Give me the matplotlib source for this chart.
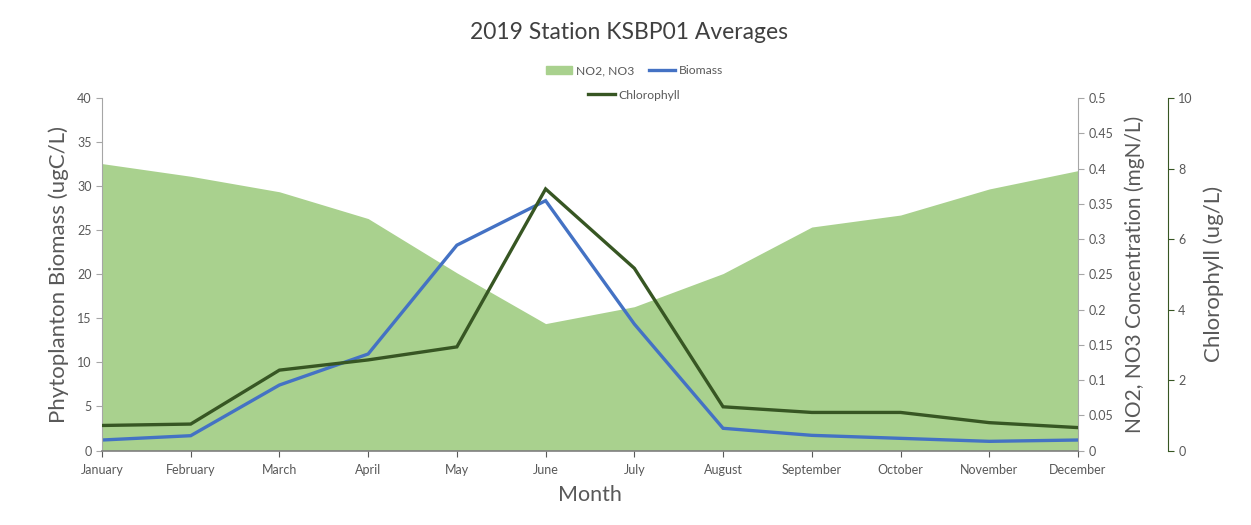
import matplotlib
matplotlib.use("Agg")
import matplotlib.pyplot as plt
from matplotlib.patches import Patch
from matplotlib.lines import Line2D

plt.rcParams.update({"font.family": ["Lato", "DejaVu Sans"]})

months = ["January", "February", "March", "April", "May", "June", "July",
          "August", "September", "October", "November", "December"]
no2_no3 = [0.407, 0.389, 0.367, 0.329, 0.252, 0.180, 0.204, 0.251, 0.317, 0.334, 0.371, 0.397]
biomass = [1.19, 1.68, 7.43, 10.95, 23.3, 28.35, 14.35, 2.52, 1.72, 1.38, 1.04, 1.19]
chlorophyll = [0.71, 0.75, 2.28, 2.57, 2.94, 7.42, 5.17, 1.24, 1.08, 1.08, 0.79, 0.65]

C_AREA, C_BIO, C_CHL = "#A9D18E", "#4472C4", "#375623"
TXT, SPN = "#595959", "#A6A6A6"

fig = plt.figure(figsize=(12.51, 5.25), dpi=100)
ax = fig.add_axes([0.0815, 0.1419, 0.7802, 0.6714])
ax2 = ax.twinx()
ax3 = ax.twinx()
ax2.set_zorder(1); ax.set_zorder(2); ax3.set_zorder(3)
ax.patch.set_visible(False); ax3.patch.set_visible(False)

x = list(range(len(months)))
ax2.fill_between(x, no2_no3, 0, color=C_AREA, linewidth=0)
ax.plot(x, biomass, color=C_BIO, lw=2.4, solid_joinstyle="miter")
ax3.plot(x, chlorophyll, color=C_CHL, lw=2.4, solid_joinstyle="miter")

ax.set_xlim(0, 11)
ax.set_ylim(0, 40)
ax2.set_ylim(0, 0.5)
ax3.set_ylim(0, 10)

ax.set_xticks(x)
ax.set_xticklabels(months, color=TXT)
ax.set_yticks(range(0, 41, 5))
ax2.set_yticks([i * 0.05 for i in range(11)])
ax2.set_yticklabels(["0", "0.05", "0.1", "0.15", "0.2", "0.25", "0.3", "0.35",
                     "0.4", "0.45", "0.5"])
ax3.set_yticks(range(0, 11, 2))

for a in (ax, ax2, ax3):
    for s in a.spines.values():
        s.set_visible(False)
    a.tick_params(labelsize=9, colors=TXT, length=4, width=0.8)

ax.spines["left"].set_visible(True)
ax.spines["left"].set_color(SPN)
ax.spines["bottom"].set_visible(True)
ax.spines["bottom"].set_color("#7F7F7F")
ax.spines["bottom"].set_linewidth(1.2)
ax.tick_params(axis="x", pad=6, labelsize=9)
ax.tick_params(axis="y", colors=SPN, labelcolor=TXT)
ax2.spines["right"].set_visible(True)
ax2.spines["right"].set_color(SPN)
ax2.tick_params(axis="y", colors=SPN, labelcolor=TXT)
ax3.spines["right"].set_visible(True)
ax3.spines["right"].set_position(("axes", 1.092))
ax3.spines["right"].set_color(C_CHL)
ax3.tick_params(axis="y", colors=C_CHL, labelcolor=TXT)

ax.set_xlabel("Month", fontsize=15.5, color=TXT, labelpad=6)
ax.set_ylabel("Phytoplanton Biomass (ugC/L)", fontsize=16, color=TXT, labelpad=6)
ax2.set_ylabel("NO2, NO3 Concentration (mgN/L)", fontsize=15, color=TXT, labelpad=8)
ax3.set_ylabel("Chlorophyll (ug/L)", fontsize=16, color=TXT, labelpad=8)

fig.text(0.503, 0.938, "2019 Station KSBP01 Averages", ha="center", va="center",
         fontsize=16.5, color="#404040")

h1 = [Patch(color=C_AREA), Line2D([], [], color=C_BIO, lw=2.4)]
h2 = [Line2D([], [], color=C_CHL, lw=2.4)]
fig.legend(h1, ["NO2, NO3", "Biomass"], loc="center", bbox_to_anchor=(0.507, 0.865),
           ncol=2, frameon=False, fontsize=8.7, handlelength=2.2, columnspacing=1.2,
           handletextpad=0.3, labelcolor=TXT)
fig.legend(h2, ["Chlorophyll"], loc="center", bbox_to_anchor=(0.507, 0.819),
           frameon=False, fontsize=8.7, handlelength=2.2, handletextpad=0.3,
           labelcolor=TXT)

fig.savefig("out.png", dpi=100, facecolor="white")
